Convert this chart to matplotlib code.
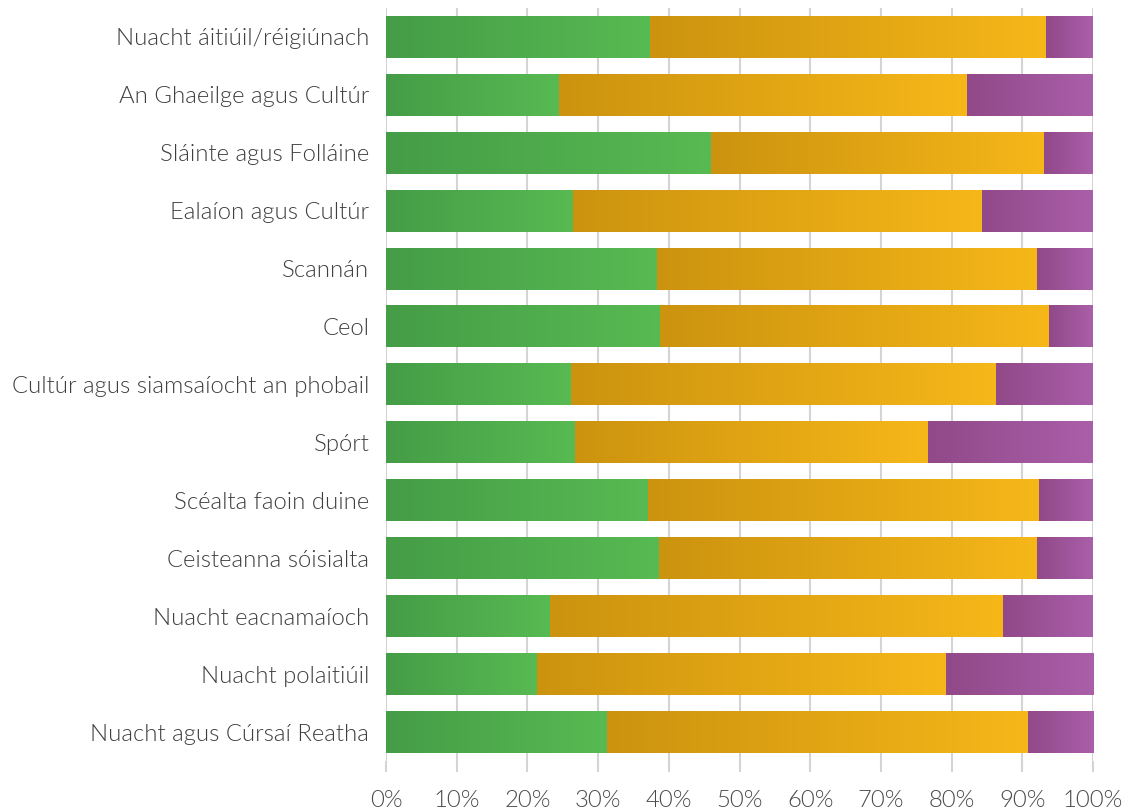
import numpy as np
import matplotlib.pyplot as plt
from matplotlib.colors import LinearSegmentedColormap

plt.rcParams['font.family'] = ['Lato', 'DejaVu Sans']
plt.rcParams['font.weight'] = 300

# categories top to bottom
categories = [
    'Nuacht áitiúil/réigiúnach',
    'An Ghaeilge agus Cultúr',
    'Sláinte agus Folláine',
    'Ealaíon agus Cultúr',
    'Scannán',
    'Ceol',
    'Cultúr agus siamsaíocht an phobail',
    'Spórt',
    'Scéalta faoin duine',
    'Ceisteanna sóisialta',
    'Nuacht eacnamaíoch',
    'Nuacht polaitiúil',
    'Nuacht agus Cúrsaí Reatha',
]
green = [37.3, 24.5, 45.9, 26.5, 38.3, 38.7, 26.1, 26.8, 37.0, 38.6, 23.2, 21.3, 31.2]
orange = [56.1, 57.7, 47.2, 57.8, 53.8, 55.1, 60.2, 49.9, 55.4, 53.5, 64.1, 57.9, 59.6]
purple = [6.6, 17.8, 6.9, 15.7, 7.9, 6.2, 13.7, 23.3, 7.6, 7.9, 12.7, 20.8, 9.2]
tick_labels = ['0%', '10%', '20%', '30%', '40%', '50%', '60%', '70%', '80%', '90%', '100%']

series = [
    (green, ('#459D47', '#58BA52')),
    (orange, ('#CC930F', '#F6B719')),
    (purple, ('#914989', '#AA5FA9')),
]

fig = plt.figure(figsize=(11.33, 8.11), dpi=100)
ax = fig.add_axes([386 / 1133, 50 / 811, 707 / 1133, 753 / 811])

n = len(categories)
ypos = np.arange(n)[::-1]
height = 0.72
grad = np.linspace(0, 1, 256).reshape(1, -1)

left = np.zeros(n)
for vals, (c0, c1) in series:
    cmap = LinearSegmentedColormap.from_list('g', [c0, c1])
    vals = np.array(vals)
    for i in range(n):
        ax.imshow(grad, cmap=cmap, aspect='auto', interpolation='bilinear',
                  extent=[left[i], left[i] + vals[i], ypos[i] - height / 2, ypos[i] + height / 2],
                  zorder=2)
    left = left + vals

ax.set_xlim(0, 100)
ax.set_ylim(-0.5, n - 0.5)
ax.set_xticks(np.arange(0, 101, 10))
ax.set_xticklabels(tick_labels, fontsize=17.2, color='#4a4a4a')
ax.set_yticks(ypos)
ax.set_yticklabels(categories, fontsize=17.2, color='#3f3f3f')
ax.tick_params(axis='y', length=0, pad=12)
ax.tick_params(axis='x', length=8, width=1.5, color='#d4d4d4', pad=13)
ax.grid(axis='x', color='#d4d4d4', linewidth=1.5, zorder=0)
ax.set_axisbelow(True)
for s in ax.spines.values():
    s.set_visible(False)

fig.savefig('out.png', dpi=100)
